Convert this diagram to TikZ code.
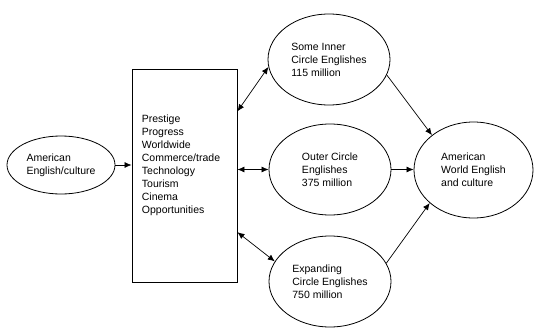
\documentclass[tikz,border=0pt]{standalone}
\usepackage{fontspec}
\setmainfont{Liberation Sans}
\usepackage{tikz}
\usetikzlibrary{shapes,arrows.meta,positioning,calc}
\tikzstyle{bubble} = [ellipse, draw=black, line width=0.8pt, minimum width=122pt,
    minimum height=91pt, inner sep=0pt, align=left, font=\fontsize{10.5}{13}\selectfont]
\tikzstyle{listbox} = [rectangle, draw=black, line width=0.9pt, minimum width=105pt, minimum height=213pt]
\tikzstyle{listtext} = [align=left, inner sep=0pt, font=\fontsize{10.5}{13}\selectfont]
\tikzstyle{arrow} = [-{Latex[length=7pt,width=6pt]}, line width=0.7pt]
\tikzstyle{twoway} = [{Latex[length=7pt,width=6pt]}-{Latex[length=7pt,width=6pt]}, line width=0.7pt]

\begin{document}
\begin{tikzpicture}[x=1pt, y=1pt]
\useasboundingbox (0,0) rectangle (549,333);
\node[bubble, minimum width=108pt, minimum height=58pt] (amer) at (61,168) {American\\English/culture};
\node[listbox] (factors) at (184.5,157.5) {};
\node[listtext] (factorlist) at (181,167.5) {Prestige\\Progress\\Worldwide\\Commerce/trade\\Technology\\Tourism\\Cinema\\Opportunities};
\node[bubble] (inner) at (329,273.5) {Some Inner\\Circle Englishes\\115 million};
\node[bubble] (outer) at (330,163.5) {Outer Circle\\Englishes\\375 million};
\node[bubble] (expanding) at (330,51.5) {Expanding\\Circle Englishes\\750 million};
\node[bubble, minimum width=119pt, minimum height=96pt] (world) at (473.5,163) {American\\World English\\and culture};

\draw[arrow] (amer.east) -- (amer.east -| factors.west);
\draw[twoway] ($(factors.north east)!0.2!(factors.south east)$) -- (inner.187);
\draw[twoway] (outer.west -| factors.east) -- (outer.west);
\draw[twoway] ($(factors.north east)!0.765!(factors.south east)$) -- (expanding.160);

\draw[arrow] (inner.-15) -- (world.140);
\draw[arrow] (outer.east) -- (outer.east -| world.west);
\draw[arrow] (expanding.18) -- (world.217);
\end{tikzpicture}
\end{document}
